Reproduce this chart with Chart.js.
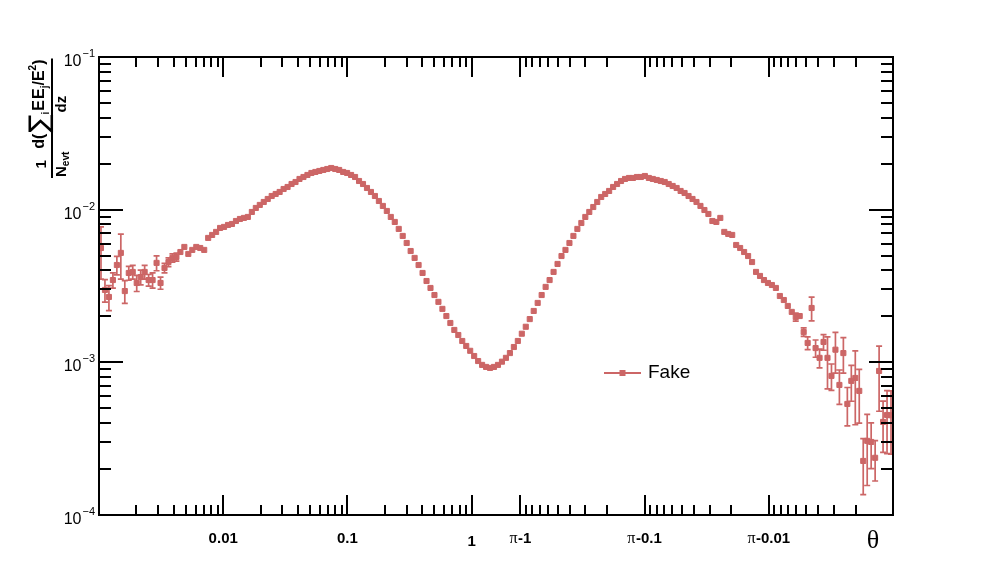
<!DOCTYPE html>
<html><head><meta charset="utf-8">
<script src="https://cdn.jsdelivr.net/npm/chart.js@4"></script>
<style>html,body{margin:0;padding:0;background:#fff;overflow:hidden}#wrap{width:996px;height:572px}</style>
</head><body><div id="wrap"><canvas id="c" width="996" height="572"></canvas></div>
<script>
// ---- axis geometry: log(theta) on the left half, mirrored log(pi-theta) on the right half
const HALF = Math.log10(Math.PI / 2);
const U_MIN = -3, U_MAX = 2 * HALF + 3;
const N_BINS = 200;
const binCenters = [];
for (let i = 0; i < N_BINS; i++) binCenters.push(U_MIN + (i + 0.5) * (U_MAX - U_MIN) / N_BINS);

// ---- data
const seriesLabel = 'Fake';
const values = [
0.00561,0.00298,0.00268,0.00346,0.00434,0.00521,0.00293,0.00385,0.00391,0.00331,
0.00362,0.00391,0.00346,0.00346,0.00448,0.00331,0.00415,0.00454,0.00483,0.00490,
0.00528,0.00570,0.00513,0.00545,0.00570,0.00561,0.00545,0.00653,0.00683,0.00715,
0.00759,0.00771,0.00794,0.00806,0.00843,0.00869,0.00883,0.00896,0.00966,0.01026,
0.01074,0.01123,0.01175,0.01229,0.01267,0.01306,0.01366,0.01408,0.01473,0.01518,
0.01589,0.01637,0.01688,0.01739,0.01766,0.01793,0.01820,0.01847,0.01875,0.01847,
0.01820,0.01766,0.01739,0.01688,0.01637,0.01541,0.01473,0.01387,0.01306,0.01229,
0.01140,0.01058,0.00981,0.00896,0.00831,0.00748,0.00673,0.00605,0.00536,0.00483,
0.00434,0.00385,0.00341,0.00307,0.00276,0.00249,0.00224,0.00201,0.00181,0.00163,
0.00151,0.00138,0.00128,0.00119,0.00110,0.00102,0.000962,0.000933,0.000919,0.000933,
0.000962,0.00101,0.00107,0.00115,0.00126,0.00138,0.00154,0.00171,0.00192,0.00217,
0.00245,0.00276,0.00312,0.00346,0.00391,0.00441,0.00497,0.00545,0.00605,0.00673,
0.00748,0.00818,0.00896,0.00966,0.01041,0.01123,0.01211,0.01267,0.01326,0.01408,
0.01473,0.01541,0.01589,0.01613,0.01613,0.01637,0.01637,0.01662,0.01613,0.01589,
0.01565,0.01541,0.01518,0.01473,0.01430,0.01387,0.01326,0.01286,0.01229,0.01175,
0.01123,0.01058,0.00995,0.00937,0.00843,0.00831,0.00883,0.00715,0.00693,0.00683,
0.00587,0.00561,0.00528,0.00497,0.00454,0.00391,0.00368,0.00346,0.00331,0.00321,
0.00307,0.00272,0.00256,0.00234,0.00214,0.00198,0.00201,0.00158,0.00134,0.00227,
0.00124,0.00107,0.00136,0.00107,0.000815,0.00121,0.000711,0.00115,0.000534,0.000756,
0.000790,0.000650,0.000226,0.000306,0.000301,0.000237,0.000878,0.000407,0.000452,0.000450
];
const errors = [
0.0021,0.0005,0.0005,0.0004,0.0006,0.0017,0.0005,0.0004,0.0004,0.0004,
0.0004,0.0004,0.0003,0.0004,0.0005,0.0003,0.0003,0.0003,0.0003,0.0003,
0.0003,0.0003,0.0003,0.0003,0.0003,0.0002,0.0002,0.0002,0.0002,0.0002,
0.0002,0.0002,0.0002,0.0002,0.0002,0.0002,0.0002,0.0002,0.0002,0.0002,
0.0002,0.0002,0.0002,0.0002,0.0002,0.0002,0.0002,0.0002,0.0002,0.0002,
0.0002,0.0002,0.0002,0.0002,0.0002,0.0002,0.0002,0.0002,0.0002,0.0002,
0.0002,0.0002,0.0002,0.0002,0.0002,0.0002,0.0002,0.0002,0.0002,0.0002,
0.00015,0.00015,0.00015,0.00012,0.00012,0.00010,0.00010,0.00008,0.00008,0.00007,
0.00006,0.00005,0.00005,0.00004,0.00004,0.00004,0.00003,0.00003,0.00003,0.00003,
0.00003,0.00002,0.00002,0.00002,0.00002,0.00002,0.00002,0.00002,0.00002,0.00002,
0.00002,0.00002,0.00002,0.00002,0.00002,0.00002,0.00003,0.00003,0.00003,0.00004,
0.00004,0.00004,0.00005,0.00005,0.00006,0.00007,0.00008,0.00008,0.00010,0.00010,
0.00012,0.00012,0.00015,0.00015,0.00015,0.00015,0.00015,0.00015,0.00015,0.00015,
0.00015,0.00015,0.00015,0.00015,0.00015,0.00015,0.00015,0.00015,0.00015,0.00015,
0.00015,0.00015,0.00015,0.00015,0.00015,0.00015,0.00015,0.00015,0.00015,0.00015,
0.0002,0.0002,0.0002,0.0002,0.0002,0.0002,0.0002,0.0002,0.0002,0.0002,
0.0002,0.00015,0.00015,0.00015,0.00015,0.00012,0.00012,0.00012,0.00012,0.00012,
0.00012,0.00013,0.00012,0.00012,0.00012,0.00012,0.00012,0.0001,0.00013,0.0004,
0.00016,0.00015,0.00016,0.0004,0.00016,0.00036,0.00018,0.0003,0.00015,0.0002,
0.0004,0.00025,0.00009,0.00015,0.0001,0.00007,0.0004,0.00015,0.0002,0.0002
];

// ---- tick labels
const xMajorTheta = [0.01, 0.1, 1, Math.PI - 1, Math.PI - 0.1, Math.PI - 0.01];
const xMajorLabels = ['0.01', '0.1', '1', 'π-1', 'π-0.1', 'π-0.01'];
const yDecades = [-4, -3, -2, -1];
const xTitle = 'θ';

const COLOR = 'rgb(204,102,102)';
function toU(theta) {
  return theta <= Math.PI / 2 ? Math.log10(theta) : 2 * HALF - Math.log10(Math.PI - theta);
}
const points = binCenters.map((u, i) => ({ x: u, y: values[i] }));

// tick positions in axis coordinate
const xMinorU = [], xMajorU = xMajorTheta.map(toU);
for (let d = -3; d <= -1; d++) for (let k = 2; k <= 9; k++) {
  const t = k * Math.pow(10, d);
  xMinorU.push(Math.log10(t));
  xMinorU.push(2 * HALF - Math.log10(t));
}

function drawRich(ctx, parts, x, y, measureOnly) {
  let w = 0;
  for (const p of parts) {
    ctx.font = p.font;
    if (!measureOnly) ctx.fillText(p.t, x + w, y + (p.dy || 0));
    w += ctx.measureText(p.t).width + (p.gap || 0);
  }
  return w;
}

const axesPlugin = {
  id: 'rootAxes',
  beforeDatasetsDraw(chart) {
    const { ctx, chartArea: a, scales: { x, y } } = chart;
    ctx.save();
    ctx.beginPath(); ctx.rect(a.left, a.top, a.right - a.left, a.bottom - a.top); ctx.clip();
    ctx.strokeStyle = COLOR; ctx.lineWidth = 1.7;
    ctx.beginPath();
    for (let i = 0; i < values.length; i++) {
      const e = errors[i]; if (!e) continue;
      const px = x.getPixelForValue(binCenters[i]);
      const hi = y.getPixelForValue(values[i] + e);
      const lo = values[i] - e > 0 ? y.getPixelForValue(values[i] - e) : a.bottom + 5;
      if (lo - hi < 8) continue;
      ctx.moveTo(px, hi); ctx.lineTo(px, lo);
      ctx.moveTo(px - 3, hi); ctx.lineTo(px + 3, hi);
      ctx.moveTo(px - 3, lo); ctx.lineTo(px + 3, lo);
    }
    ctx.stroke();
    ctx.restore();
  },
  afterDraw(chart) {
    const { ctx, chartArea: a, scales: { x, y } } = chart;
    ctx.save();
    ctx.strokeStyle = '#000'; ctx.fillStyle = '#000'; ctx.lineWidth = 2;
    ctx.strokeRect(a.left, a.top, a.right - a.left, a.bottom - a.top);
    ctx.beginPath();
    const xt = (u, len) => {
      const px = Math.round(x.getPixelForValue(u));
      ctx.moveTo(px, a.bottom); ctx.lineTo(px, a.bottom - len);
      ctx.moveTo(px, a.top); ctx.lineTo(px, a.top + len);
    };
    xMinorU.forEach(u => xt(u, 10));
    xMajorU.forEach(u => xt(u, 20));
    const yt = (v, len) => {
      const py = Math.round(y.getPixelForValue(v));
      ctx.moveTo(a.left, py); ctx.lineTo(a.left + len, py);
      ctx.moveTo(a.right, py); ctx.lineTo(a.right - len, py);
    };
    for (const d of yDecades) {
      yt(Math.pow(10, d), 24);
      if (d < -1) for (let k = 2; k <= 9; k++) yt(k * Math.pow(10, d), 12);
    }
    ctx.stroke();

    // x tick labels
    ctx.textBaseline = 'middle';
    const LB = 'bold 15px "Liberation Sans", Arial, sans-serif';
    const LP = '16px "Liberation Serif", serif';
    xMajorLabels.forEach((lab, i) => {
      const px = x.getPixelForValue(xMajorU[i]);
      let parts;
      if (lab.startsWith('π')) parts = [{ t: 'π', font: LP, gap: 0.5 }, { t: lab.slice(1), font: LB }];
      else parts = [{ t: lab, font: LB }];
      const w = drawRich(ctx, parts, 0, 0, true);
      drawRich(ctx, parts, px - w / 2, a.bottom + 24 + (lab === '1' ? 3 : 0));
    });
    // x title
    ctx.font = '26px "Liberation Serif", serif';
    ctx.textAlign = 'center';
    ctx.fillText(xTitle, 873, 541);
    ctx.textAlign = 'left';

    // y tick labels: 10^d
    ctx.textBaseline = 'alphabetic';
    for (const d of yDecades) {
      const py = y.getPixelForValue(Math.pow(10, d));
      const parts = [{ t: '10', font: '16px "Liberation Sans", Arial, sans-serif', gap: 1 },
                     { t: '−' + Math.abs(d), font: '11px "Liberation Sans", Arial, sans-serif', dy: -9 }];
      const w = drawRich(ctx, parts, 0, 0, true);
      drawRich(ctx, parts, 95 - w, py + 9);
    }

    // y title (rotated fraction)
    ctx.save();
    ctx.translate(52, 178);
    ctx.rotate(-Math.PI / 2);
    const B16 = 'bold 16px "Liberation Sans", Arial, sans-serif';
    const B15 = 'bold 15px "Liberation Sans", Arial, sans-serif';
    const B10 = 'bold 10px "Liberation Sans", Arial, sans-serif';
    const S26 = '27px "DejaVu Sans", "Liberation Sans", sans-serif';
    // fraction 1: 1 / N_evt
    const den1 = [{ t: 'N', font: B15 }, { t: 'evt', font: B10, dy: 3 }];
    const wDen1 = drawRich(ctx, den1, 0, 0, true);
    const a1 = 1;
    drawRich(ctx, den1, a1, 14);
    ctx.font = B15;
    const w1 = ctx.measureText('1').width;
    ctx.fillText('1', a1 + (wDen1 - w1) / 2, -6);
    // fraction 2: d(sum E E_j/E^2) / dz
    const num2 = [
      { t: 'd(', font: B16, gap: 1 },
      { t: '∑', font: S26, dy: 4 },
      { t: 'i', font: B10, dy: 5, gap: 1 },
      { t: 'E', font: B16, gap: 1 },
      { t: 'E', font: B16 },
      { t: 'j', font: B10, dy: 4 },
      { t: '/E', font: B16 },
      { t: '2', font: B10, dy: -8 },
      { t: ')', font: B16 }
    ];
    const wNum2 = drawRich(ctx, num2, 0, 0, true);
    const a2 = a1 + wDen1 + 3;
    drawRich(ctx, num2, a2, -8);
    ctx.font = B15;
    const wdz = ctx.measureText('dz').width;
    ctx.fillText('dz', a2 + (wNum2 - wdz) / 2, 14);
    ctx.lineWidth = 2;
    ctx.beginPath();
    ctx.moveTo(a1 - 1, 0); ctx.lineTo(a2 + wNum2 + 1, 0);
    ctx.stroke();
    ctx.restore();

    // legend
    ctx.strokeStyle = COLOR; ctx.fillStyle = COLOR; ctx.lineWidth = 2;
    ctx.beginPath(); ctx.moveTo(604, 373); ctx.lineTo(641, 373); ctx.stroke();
    ctx.fillRect(619.5, 370, 6, 6);
    ctx.fillStyle = '#000';
    ctx.font = '19px "Liberation Sans", Arial, sans-serif';
    ctx.textBaseline = 'middle';
    ctx.fillText(seriesLabel, 648, 373);
    ctx.restore();
  }
};

new Chart(document.getElementById('c'), {
  type: 'scatter',
  data: {
    datasets: [{
      label: seriesLabel,
      data: points,
      showLine: false,
      pointStyle: 'rect',
      pointRadius: 3.6,
      pointBorderWidth: 1,
      pointBackgroundColor: COLOR,
      pointBorderColor: COLOR,
      pointHoverRadius: 3.6
    }]
  },
  options: {
    responsive: false,
    animation: false,
    devicePixelRatio: 1,
    layout: { padding: { left: 99, top: 57, right: 103, bottom: 57 } },
    plugins: { legend: { display: false }, tooltip: { enabled: false } },
    events: [],
    scales: {
      x: { type: 'linear', min: U_MIN, max: U_MAX, display: false },
      y: { type: 'logarithmic', min: 1e-4, max: 1e-1, display: false }
    }
  },
  plugins: [axesPlugin]
});
</script>
</body></html>
